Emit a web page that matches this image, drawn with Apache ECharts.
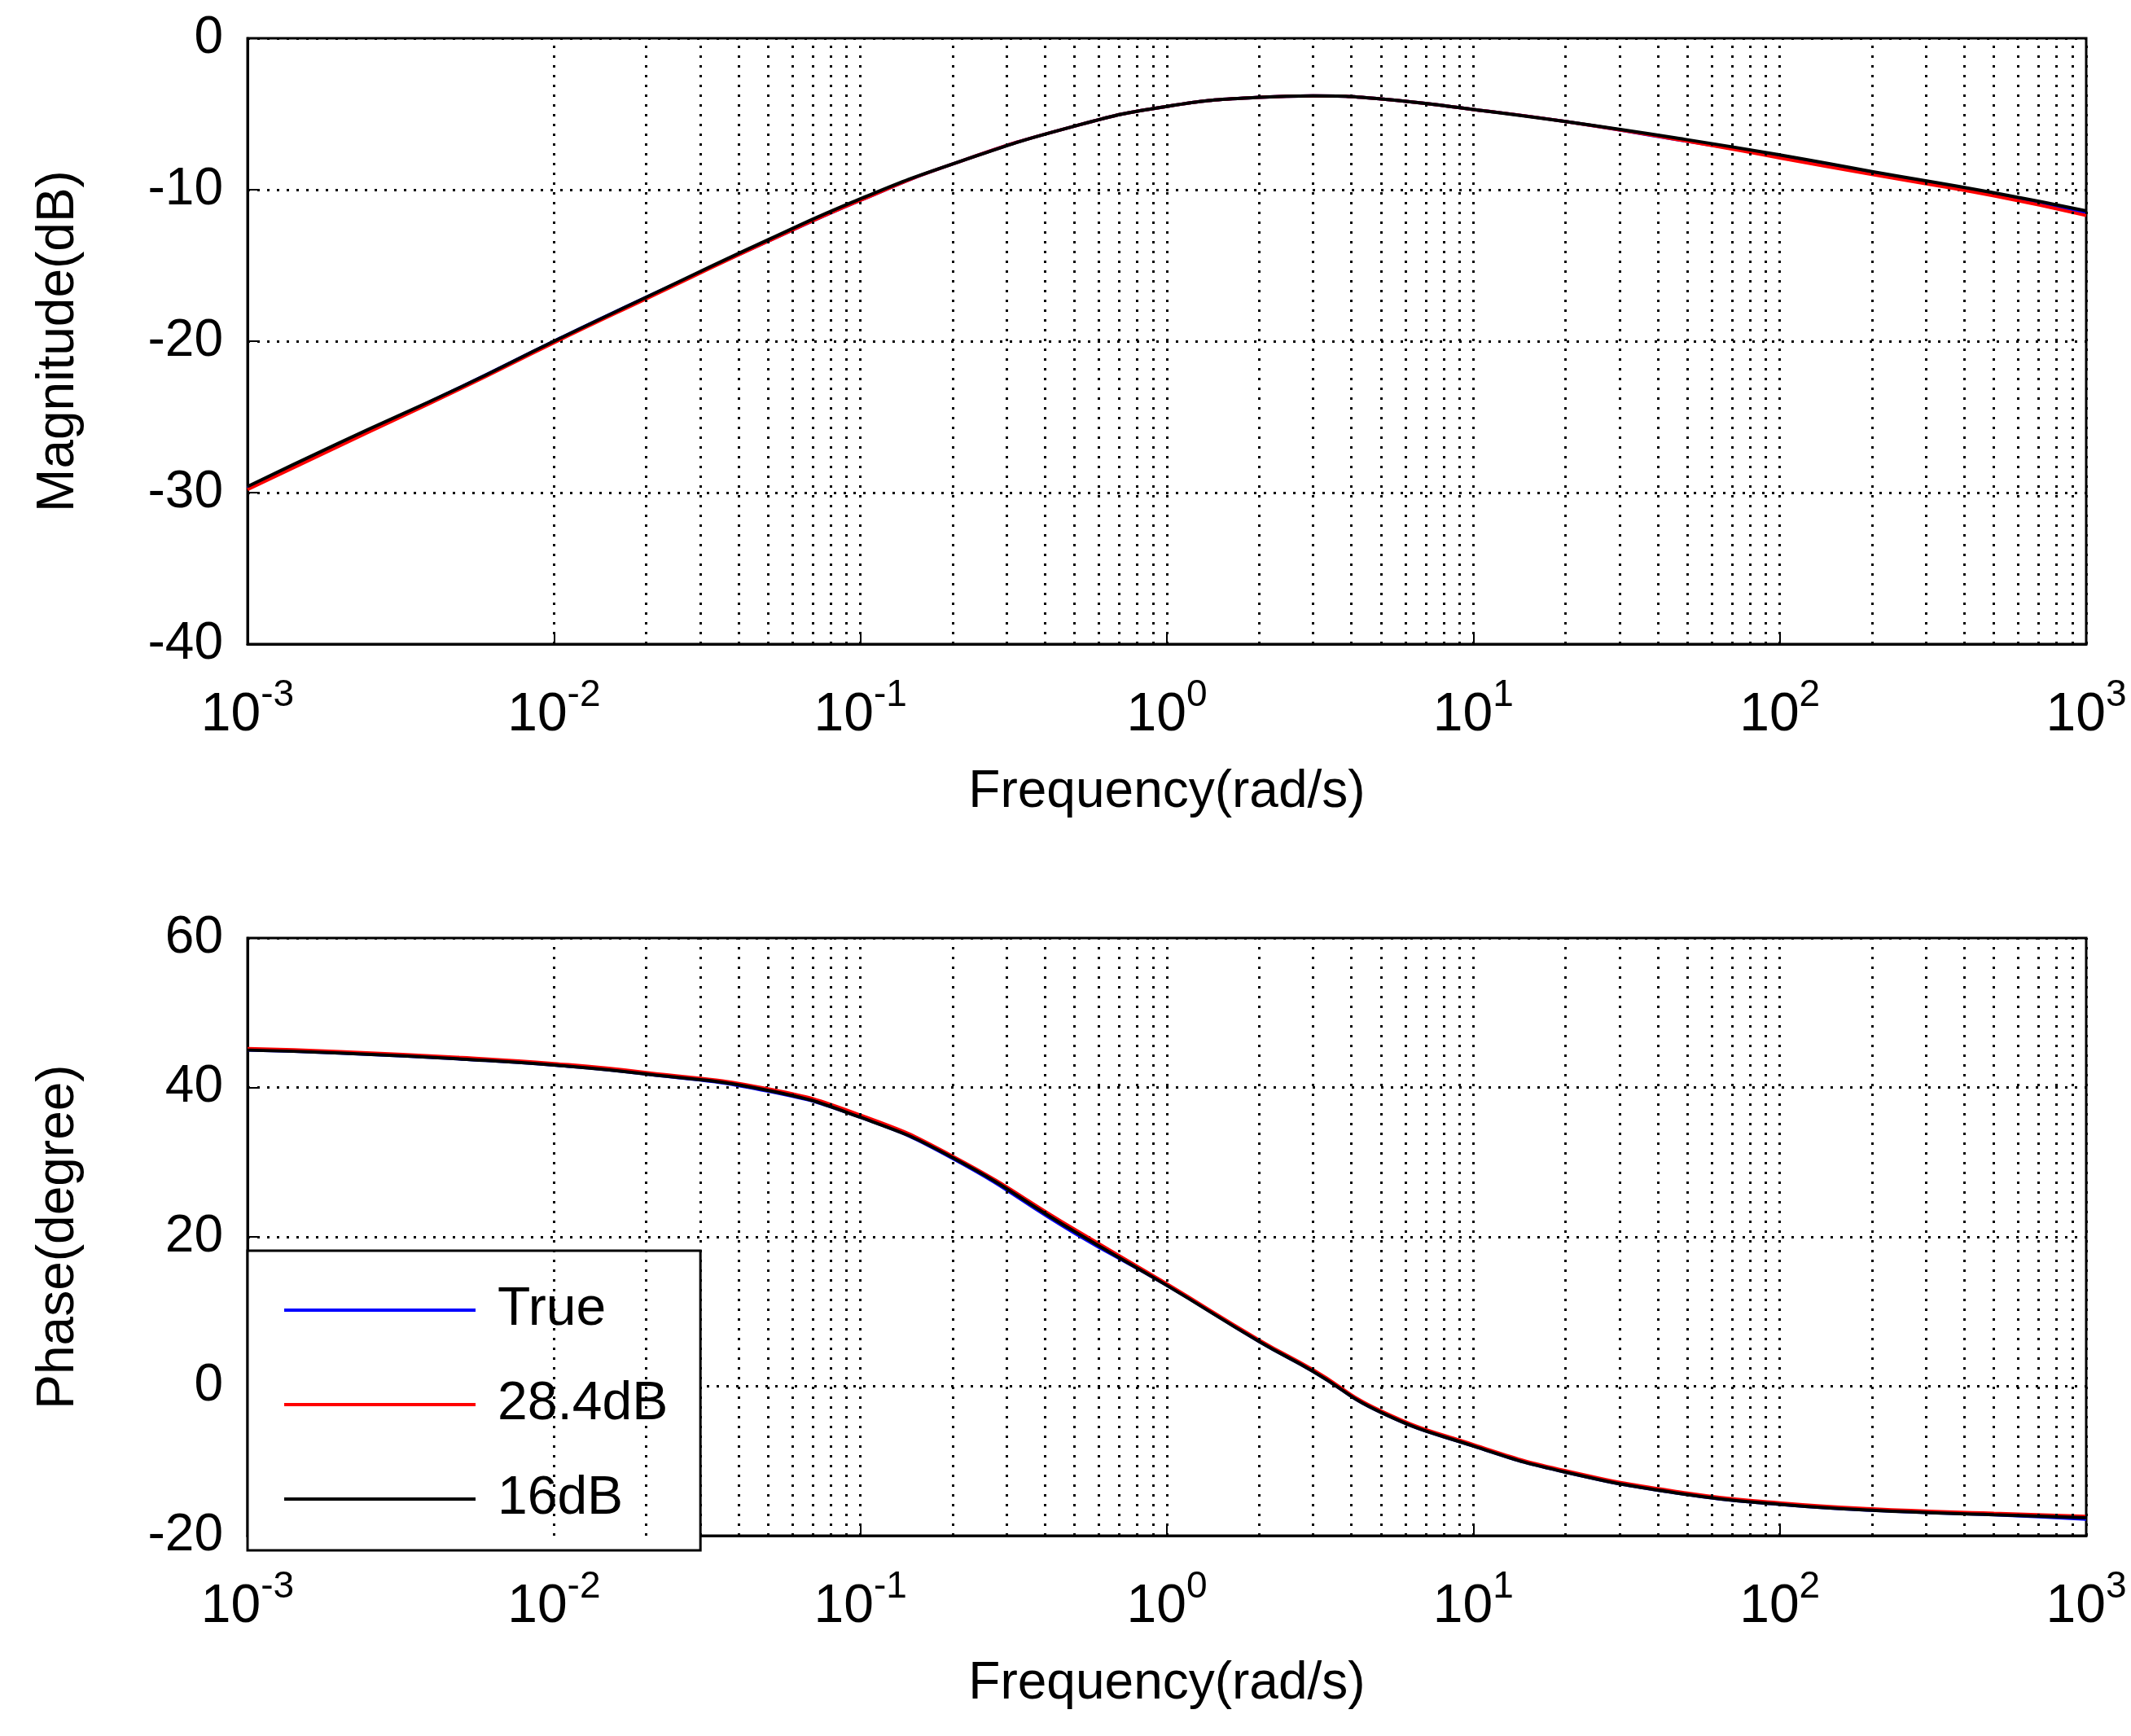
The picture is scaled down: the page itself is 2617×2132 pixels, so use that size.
<!DOCTYPE html>
<html><head><meta charset="utf-8">
<script src="https://cdn.jsdelivr.net/npm/echarts@6/dist/echarts.min.js"></script>
<style>html,body{margin:0;padding:0;background:#fff}#c{width:2617px;height:2132px}</style>
</head><body><div id="c"></div>
<script>
const freq = [0.001,0.002,0.005,0.01,0.02,0.05,0.1,0.2,0.5,1,2,3,5,10,20,50,100,200,500,1000];
const magTrue = [-29.7,-26.8,-23,-20,-17.1,-13.4,-10.7,-8.3,-5.8,-4.5,-3.9,-3.8,-4.0,-4.7,-5.5,-6.8,-7.8,-8.9,-10.3,-11.6];
const mag284 = [-29.8,-26.9,-23.1,-20.1,-17.2,-13.4,-10.7,-8.3,-5.8,-4.5,-3.9,-3.8,-4.0,-4.7,-5.5,-6.8,-7.9,-9.0,-10.4,-11.7];
const mag16 = [-29.6,-26.7,-23,-20,-17.1,-13.3,-10.6,-8.3,-5.8,-4.5,-3.9,-3.8,-4.0,-4.7,-5.5,-6.7,-7.7,-8.8,-10.2,-11.4];
const phTrue = [45,44.6,43.8,43,41.8,39.5,36,30.5,20.5,13.5,6,2,-3.5,-8,-11.5,-14.5,-15.8,-16.6,-17.2,-17.8];
const ph284 = [45.2,44.8,44,43.2,42,39.8,36.3,30.8,21,13.7,6.2,2.2,-3.3,-7.8,-11.3,-14.3,-15.6,-16.4,-17,-17.4];
const ph16 = [45,44.6,43.8,43,41.8,39.6,36,30.6,20.7,13.5,6,2,-3.5,-8,-11.5,-14.5,-15.8,-16.6,-17.2,-17.6];

const gridX = [];
for (let e=-3;e<3;e++) for (let k=1;k<10;k++) gridX.push(k*Math.pow(10,e));
gridX.push(1000);

const F = 'Liberation Sans, Arial, sans-serif';
function zip(a){return freq.map((f,i)=>[f,a[i]]);}
function xAxis(i){return {type:'log',logBase:10,min:0.001,max:1000,gridIndex:i,
  name:'Frequency(rad/s)',nameLocation:'middle',nameGap:150,
  nameTextStyle:{fontFamily:F,fontSize:64,color:'#000'},
  axisLine:{onZero:false,lineStyle:{color:'#000',width:3}},axisTick:{inside:true,length:14,lineStyle:{color:'#000',width:2}},
  splitLine:{show:false},
  axisLabel:{margin:30,color:'#000',fontFamily:F,
    formatter:v=>'{b|10}{s|'+Math.round(Math.log10(v))+'}',
    rich:{b:{fontSize:66,fontFamily:F,color:'#000',padding:[25,0,0,0]},s:{fontSize:46,fontFamily:F,color:'#000',padding:[0,0,25,0]}}}};}
function yAxis(i,min,max,name){return {type:'value',min:min,max:max,interval:10*(i?2:1),gridIndex:i,
  name:name,nameLocation:'middle',nameGap:200,nameTextStyle:{fontFamily:F,fontSize:64,color:'#000'},
  axisLine:{lineStyle:{color:'#000',width:3}},axisTick:{inside:true,length:14,lineStyle:{color:'#000',width:2}},
  splitLine:{show:true,lineStyle:{color:'#000',type:[3,9],width:3}},
  axisLabel:{fontFamily:F,fontSize:64,color:'#000',margin:30}};}
function gridSeries(i){return {type:'line',xAxisIndex:i,yAxisIndex:i,data:[],silent:true,
  markLine:{symbol:'none',silent:true,label:{show:false},lineStyle:{color:'#000',type:[3,9],width:3},
  data:gridX.map(x=>({xAxis:x}))}};}
function line(name,i,arr,color){return {name:name,type:'line',xAxisIndex:i,yAxisIndex:i,data:zip(arr),
  showSymbol:false,smooth:0.5,lineStyle:{color:color,width:4},itemStyle:{color:color}};}

const chart = echarts.init(document.getElementById('c'));
chart.setOption({
  animation:false,backgroundColor:'#fff',
  grid:[{left:304,top:47,width:2258,height:744,show:true,borderColor:'#000',borderWidth:3},
        {left:304,top:1152,width:2258,height:734,show:true,borderColor:'#000',borderWidth:3}],
  xAxis:[xAxis(0),xAxis(1)],
  yAxis:[yAxis(0,-40,0,'Magnitude(dB)'),yAxis(1,-20,60,'Phase(degree)')],
  legend:{orient:'vertical',left:304,top:1536,
    backgroundColor:'#fff',borderColor:'#000',borderWidth:3,padding:[40,40,30,45],
    itemWidth:235,itemHeight:4,itemGap:50,icon:'rect',
    textStyle:{fontFamily:F,fontSize:66,color:'#000',padding:[0,0,0,22]},
    data:['True','28.4dB','16dB']},
  series:[gridSeries(0),gridSeries(1),
    line('True',0,magTrue,'#0000ff'),line('28.4dB',0,mag284,'#ff0000'),line('16dB',0,mag16,'#000000'),
    line('True',1,phTrue,'#0000ff'),line('28.4dB',1,ph284,'#ff0000'),line('16dB',1,ph16,'#000000')]
});
</script></body></html>
